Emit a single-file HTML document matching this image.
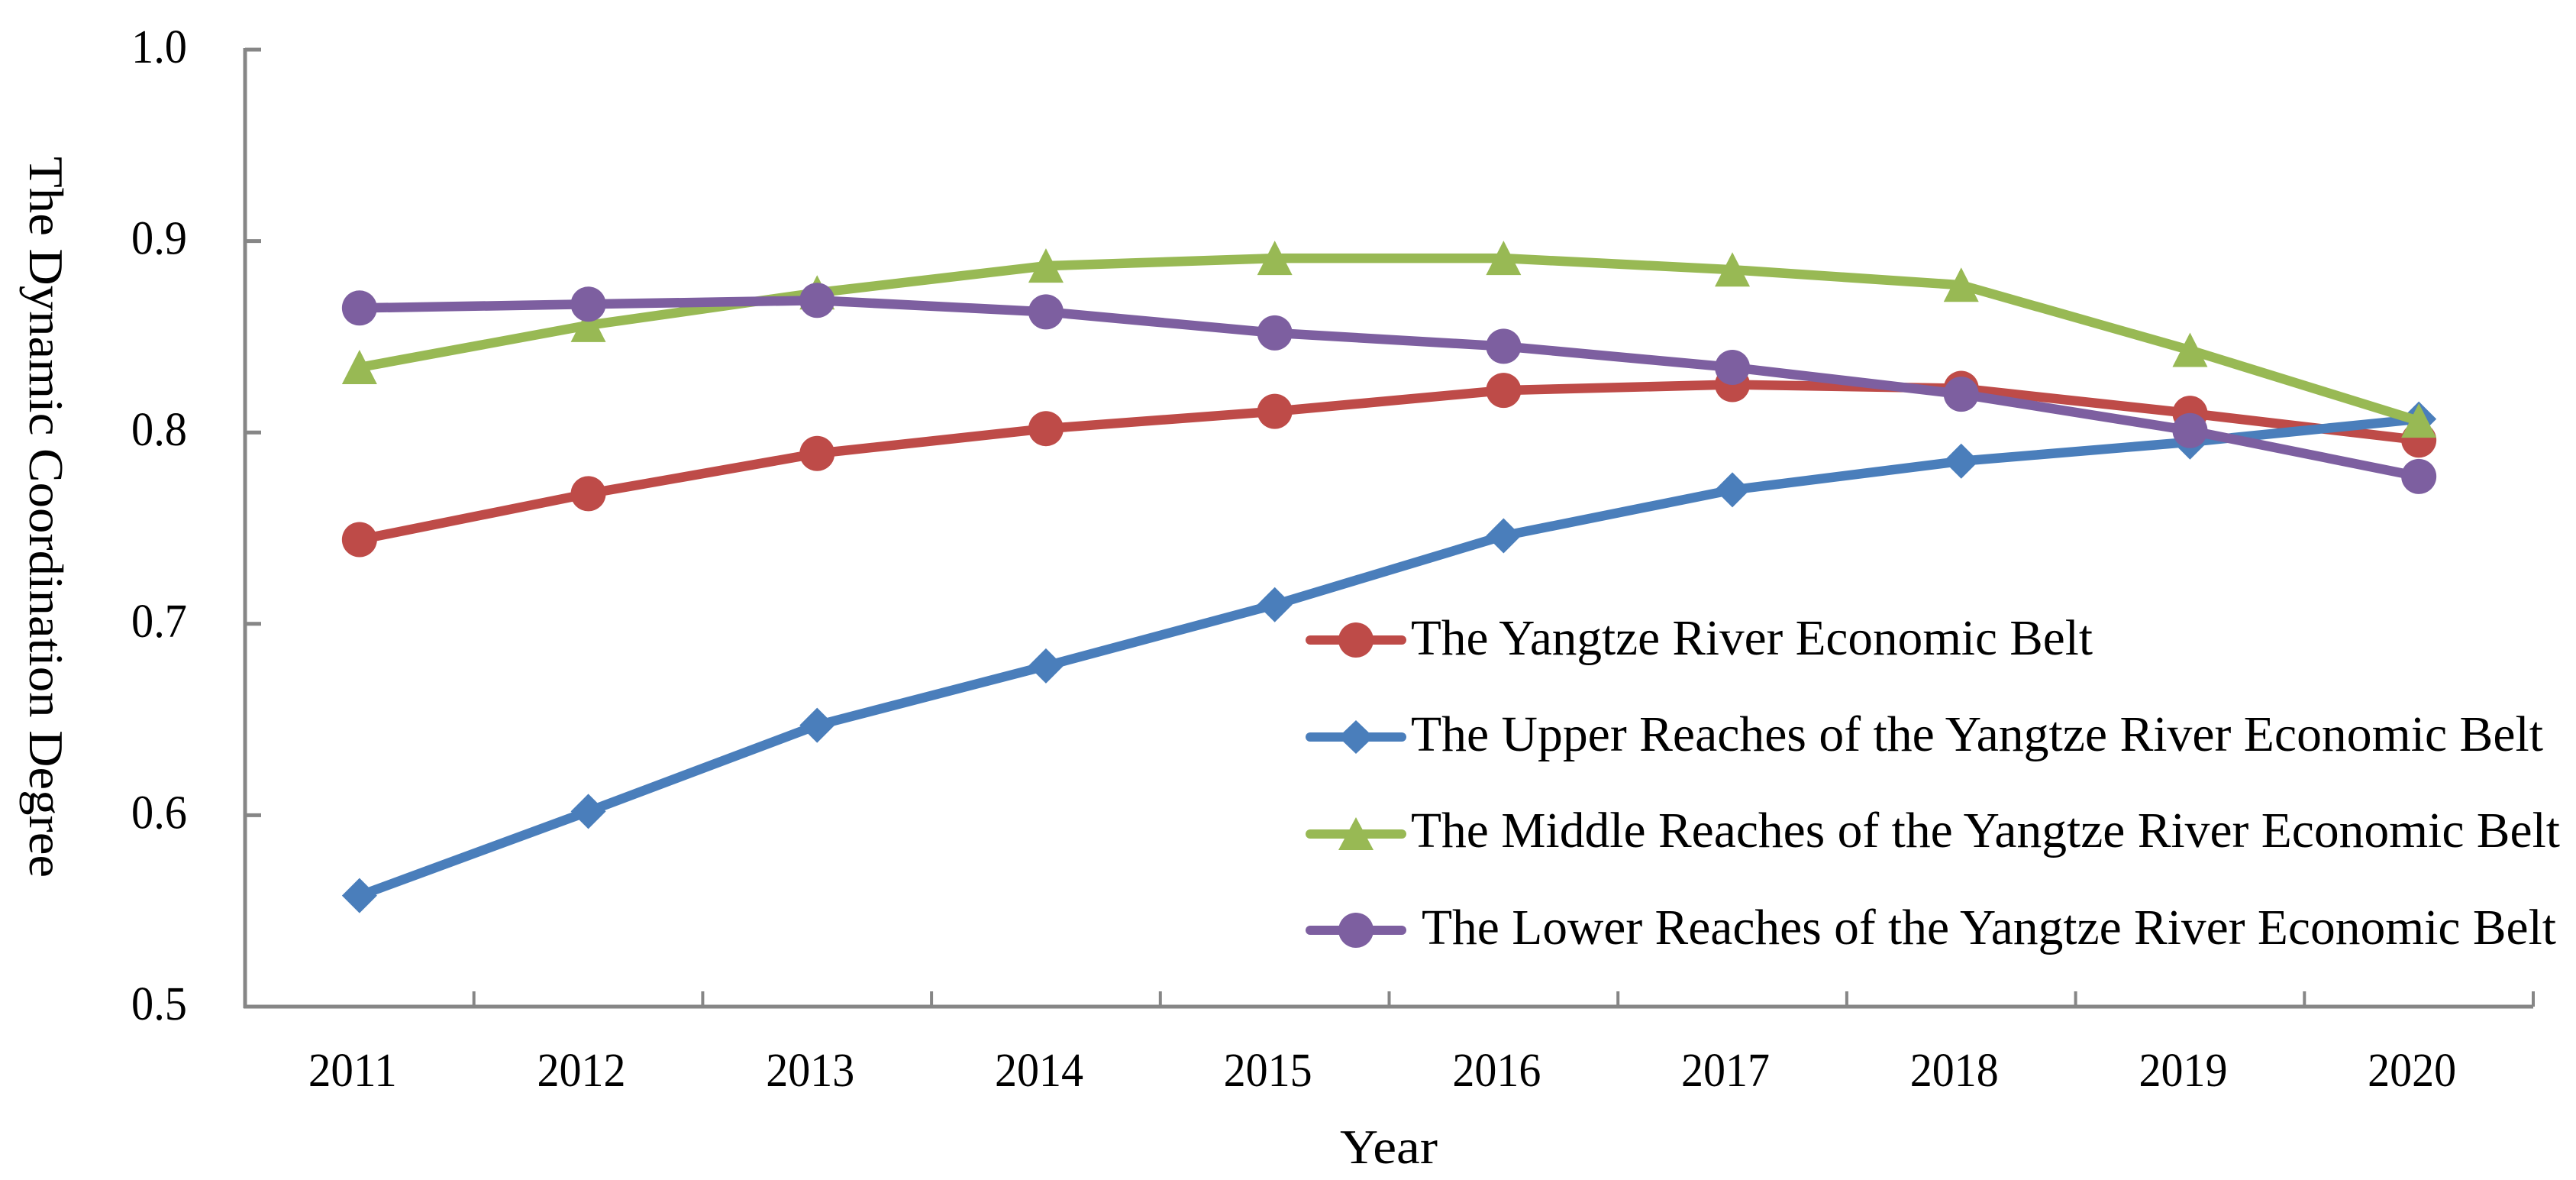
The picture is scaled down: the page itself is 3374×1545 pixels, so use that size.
<!DOCTYPE html>
<html lang="en">
<head>
<meta charset="utf-8">
<title>The Dynamic Coordination Degree of the Yangtze River Economic Belt</title>
<style>
html,body{margin:0;padding:0;background:#fff;}
svg{display:block;}
text{font-family:"Liberation Serif",serif;fill:#000;}
</style>
</head>
<body>
<svg id="chart" xmlns="http://www.w3.org/2000/svg" width="3374" height="1545" viewBox="0 0 3374 1545">
  <rect x="0" y="0" width="3374" height="1545" fill="#ffffff"/>
  <g id="axes"></g>
  <g id="series"></g>
  <text transform="translate(39,205) rotate(90)" font-size="64" textLength="944" lengthAdjust="spacingAndGlyphs">The Dynamic Coordination Degree</text>
  <text x="1755" y="1523" font-size="64" textLength="128" lengthAdjust="spacingAndGlyphs">Year</text>
  <g>
    <g>
      <line x1="1716" y1="838" x2="1836" y2="838" stroke="#BE4B48" stroke-width="12" stroke-linecap="round"/>
      <circle cx="1776" cy="838" r="23" fill="#BE4B48"/>
      <text x="1848" y="857" font-size="66" textLength="893" lengthAdjust="spacingAndGlyphs">The Yangtze River Economic Belt</text>
    </g>
    <g>
      <line x1="1716" y1="965" x2="1836" y2="965" stroke="#4A7EBB" stroke-width="12" stroke-linecap="round"/>
      <polygon points="1776,943 1799,965 1776,987 1753,965" fill="#4A7EBB"/>
      <text x="1848" y="983" font-size="66" textLength="1483" lengthAdjust="spacingAndGlyphs">The Upper Reaches of the Yangtze River Economic Belt</text>
    </g>
    <g>
      <line x1="1716" y1="1092" x2="1836" y2="1092" stroke="#98B954" stroke-width="12" stroke-linecap="round"/>
      <polygon points="1776,1070 1799,1113 1753,1113" fill="#98B954"/>
      <text x="1848" y="1109" font-size="66" textLength="1505" lengthAdjust="spacingAndGlyphs">The Middle Reaches of the Yangtze River Economic Belt</text>
    </g>
    <g>
      <line x1="1716" y1="1218" x2="1836" y2="1218" stroke="#7D5FA0" stroke-width="12" stroke-linecap="round"/>
      <circle cx="1776" cy="1218" r="23" fill="#7D5FA0"/>
      <text x="1862" y="1236" font-size="66" textLength="1486" lengthAdjust="spacingAndGlyphs">The Lower Reaches of the Yangtze River Economic Belt</text>
    </g>
  </g>
</svg>
<script>
const years = ['2011','2012','2013','2014','2015','2016','2017','2018','2019','2020'];
const yTickValues = [0.5,0.6,0.7,0.8,0.9,1.0];
const yTickLabels = ['0.5','0.6','0.7','0.8','0.9','1.0'];
const yangtze = [0.744,0.768,0.789,0.802,0.811,0.822,0.825,0.823,0.810,0.796];
const upper = [0.558,0.602,0.647,0.678,0.710,0.746,0.770,0.785,0.795,0.807];
const middle = [0.834,0.856,0.873,0.887,0.891,0.891,0.885,0.877,0.843,0.806];
const lower = [0.865,0.867,0.869,0.863,0.852,0.845,0.834,0.820,0.801,0.777];

const NS = 'http://www.w3.org/2000/svg';
const plotLeft = 321, plotRight = 3318, plotTop = 65, plotBottom = 1318;
const yMin = 0.5, yMax = 1.0;
function xBand(){ return (plotRight - plotLeft) / years.length; }
function xPos(i){ return plotLeft + xBand() * (i + 0.5); }
function yPos(v){ return plotBottom - (v - yMin) / (yMax - yMin) * (plotBottom - plotTop); }
function make(tag, attrs, parent){
  const el = document.createElementNS(NS, tag);
  for (const k in attrs) el.setAttribute(k, attrs[k]);
  parent.appendChild(el);
  return el;
}

const axes = document.getElementById('axes');
const axisColor = '#868686';
const yAxisLine = make('line', {x1:plotLeft, y1:plotTop-2, x2:plotLeft, y2:plotBottom+2, stroke:axisColor, 'stroke-width':5}, axes);


const xAxisLine = make('line', {x1:plotLeft-2, y1:plotBottom, x2:plotRight, y2:plotBottom, stroke:axisColor, 'stroke-width':5}, axes);



yTickValues.forEach(function(v, i){
  const y = yPos(v);
  const tick = make('line', {x1:plotLeft, y1:y, x2:plotLeft+21, y2:y, stroke:axisColor, 'stroke-width':5}, axes);
  
  
  const label = make('text', {x:172, y:y+17, 'font-size':62, textLength:73, lengthAdjust:'spacingAndGlyphs'}, axes);
  
  
  label.textContent = yTickLabels[i];
});

years.forEach(function(year, i){
  const tx = plotLeft + xBand() * (i + 1);
  const tick = make('line', {x1:tx, y1:plotBottom-20, x2:tx, y2:plotBottom, stroke:axisColor, 'stroke-width':4}, axes);
  
  
  const label = make('text', {x:xPos(i)-67, y:1422, 'font-size':62, textLength:116, lengthAdjust:'spacingAndGlyphs'}, axes);
  
  
  label.textContent = year;
});

const seriesGroup = document.getElementById('series');
const R = 23;
function drawMarker(shape, x, y, color, parent){
  if (shape === 'circle') return make('circle', {cx:x, cy:y, r:R, fill:color}, parent);
  if (shape === 'diamond') return make('polygon', {points:[x,y-R,x+R,y,x,y+R,x-R,y].join(' '), fill:color}, parent);
  return make('polygon', {points:[x,y-R,x+R,y+R-1,x-R,y+R-1].join(' '), fill:color}, parent);
}
function drawSeries(name, values, color, shape){
  const g = make('g', {}, seriesGroup);
  
  
  const pts = values.map(function(v, i){ return xPos(i) + ',' + yPos(v); }).join(' ');
  const line = make('polyline', {points:pts, fill:'none', stroke:color, 'stroke-width':12.5, 'stroke-linejoin':'round', 'stroke-linecap':'round'}, g);
  
  
  values.forEach(function(v, i){
    const m = drawMarker(shape, xPos(i), yPos(v), color, g);
    
    
  });
}
drawSeries('yangtze', yangtze, '#BE4B48', 'circle');
drawSeries('upper', upper, '#4A7EBB', 'diamond');
drawSeries('middle', middle, '#98B954', 'triangle');
drawSeries('lower', lower, '#7D5FA0', 'circle');
</script>
</body>
</html>
